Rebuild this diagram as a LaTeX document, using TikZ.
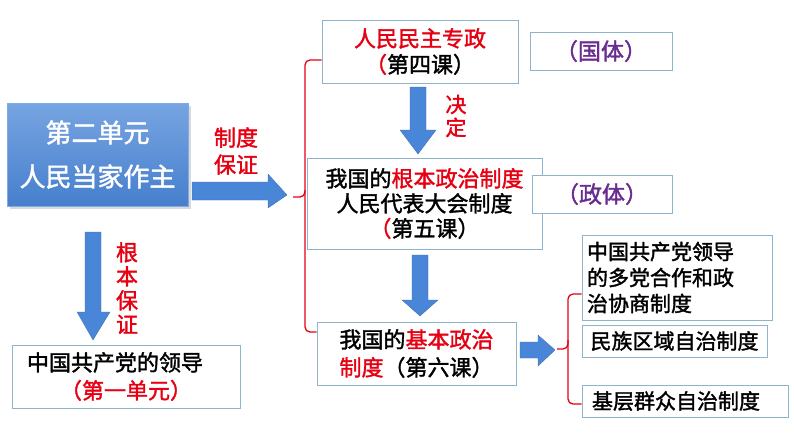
\documentclass[tikz,border=0pt]{standalone}
\usepackage{fontspec}
\setmainfont{Noto Sans CJK SC}[FakeBold=1.6]
\usetikzlibrary{shadows}
\definecolor{bl}{HTML}{4A86D8}
\definecolor{bx}{HTML}{8DB4CC}
\definecolor{rd}{HTML}{E60012}
\definecolor{pu}{HTML}{6A2C91}
\begin{document}
\begin{tikzpicture}[x=1pt,y=-1pt,
  box/.style={draw=bx,line width=0.8pt,fill=white,inner sep=0pt,align=center,font=\fontsize{22}{26}\selectfont},
  lbl/.style={text=rd,font=\fontsize{21}{23}\selectfont,align=center,inner sep=0pt},
  arr/.style={fill=bl,draw=bl!80!black,line width=0.3pt},
  br/.style={draw=rd,line width=1.3pt,rounded corners=5pt}]
\useasboundingbox (0,0) rectangle (794,447);
% blue box
\node[minimum width=181pt,minimum height=103pt,inner sep=0pt,
  top color=bl!75!white,bottom color=bl!95!black,draw=bl!70,drop shadow={opacity=0.3},
  text=white,font=\fontsize{26}{44}\selectfont,align=center] (unit) at (97.5,154.5) {第二单元\\人民当家作主};
\node[lbl,font=\fontsize{22}{27}\selectfont] (zdbz) at (236,151) {制度\\保证};
\node[lbl,font=\fontsize{22}{24}\selectfont] (gbbz) at (127,288) {根\\本\\保\\证};
% left bottom
\node[box,minimum width=228pt,minimum height=63pt,font=\fontsize{22}{28}\selectfont] (ccp) at (126,376.5) {\hspace*{-22pt}中国共产党的领导\\\textcolor{rd}{（第一单元）}};
% middle column
\node[box,minimum width=196pt,minimum height=63pt] (zz) at (420,51.5) {\textcolor{rd}{人民民主专政}\\\textcolor{rd}{（}第四课）};
\node[box,minimum width=235pt,minimum height=91pt,font=\fontsize{22}{25}\selectfont] (rd) at (424.5,203.5) {我国的\textcolor{rd}{根本政治制度}\\人民代表大会制度\\\textcolor{rd}{（}第五课）};
\node[box,minimum width=199pt,minimum height=63pt,font=\fontsize{22}{28}\selectfont] (jb) at (416.5,353.5) {我国的\textcolor{rd}{基本政治}\\\textcolor{rd}{制度}（第六课）};
\node[box,minimum width=142pt,minimum height=38pt,text=pu,font=\fontsize{23}{26}\selectfont] (gt) at (601,51) {（国体）};
\node[box,minimum width=140pt,minimum height=38pt,text=pu,font=\fontsize{23}{26}\selectfont] (zt) at (602,194) {（政体）};
\node[lbl] (jd) at (456,116) {决\\定};
% right boxes
\node[box,minimum width=190pt,minimum height=85pt,align=left,text width=180pt,font=\fontsize{21}{26}\selectfont] (dd) at (677,277.5) {中国共产党领导\\的多党合作和政\\治协商制度};
\node[box,minimum width=185pt,minimum height=32pt,font=\fontsize{21}{26}\selectfont] (mz) at (674.5,341) {民族区域自治制度};
\node[box,minimum width=206pt,minimum height=32pt,font=\fontsize{21}{26}\selectfont] (jc) at (685,401) {\hspace*{-18pt}基层群众自治制度};
% arrows
\fill[arr] (192,182)--(268,182)--(268,174)--(287,195)--(268,208)--(268,200)--(192,200)--cycle;
\fill[arr] (85,232)--(101,232)--(101,312)--(110,312)--(93,340)--(77,312)--(85,312)--cycle;
\fill[arr] (410,87)--(426,87)--(426,130)--(436,130)--(418,154)--(400,130)--(410,130)--cycle;
\fill[arr] (412,255)--(428,255)--(428,300)--(438,300)--(420,316)--(402,300)--(412,300)--cycle;
\fill[arr] (520,342)--(538,342)--(538,335)--(555,350)--(538,366)--(538,358)--(520,358)--cycle;
% braces
\draw[br] (zz.west |- 0,60) -- (305,60) -- (305,197) -- (293,197);
\draw[br] (305,190) -- (305,332) -- (jb.west |- 0,332);
\draw[br] (dd.west |- 0,294) -- (568,294) -- (568,349) -- (557,349);
\draw[br] (568,340) -- (568,404) -- (jc.west |- 0,404);
\end{tikzpicture}
\end{document}
